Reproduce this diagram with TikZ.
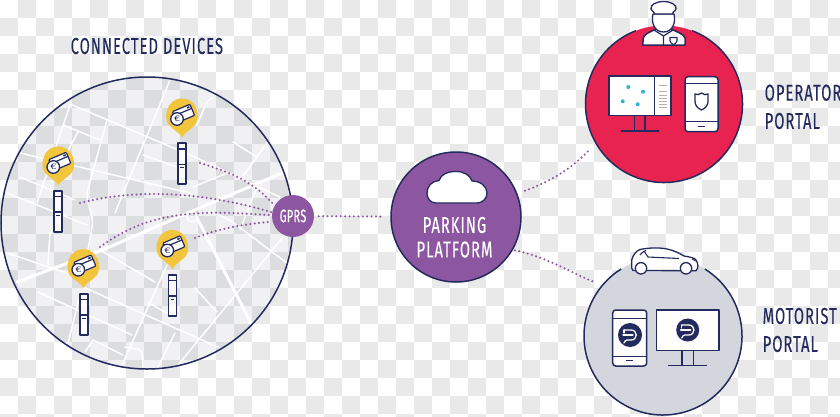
\documentclass[tikz,border=0pt]{standalone}
\usepackage{fontspec}
\newfontfamily\din[FakeStretch=0.64,LetterSpace=4.5,FakeBold=0.2]{Fira Sans}
\newfontfamily\dinsmall[FakeStretch=0.6,LetterSpace=2,FakeBold=0.4]{Fira Sans}
\definecolor{navy}{HTML}{232A5E}
\definecolor{plum}{HTML}{8C57A0}
\definecolor{crimson}{HTML}{E8234F}
\definecolor{sun}{HTML}{F2C53D}
\definecolor{teal}{HTML}{2FB4CC}
\definecolor{silver}{HTML}{D3D6DD}
\definecolor{tile}{HTML}{E9E9E9}
\definecolor{maptint}{HTML}{3A4060}
\tikzset{
  x=1pt,y=-1pt,
  outline/.style={draw=navy,line width=1.5pt,line join=round},
  dotline/.style={draw=plum,line width=2.3pt,line cap=round,dash pattern=on 0pt off 4.4pt},
  street/.style={draw=white,line width=1.5pt,line cap=round},
  avenue/.style={draw=white,line width=3pt,line cap=round},
  hub/.style={circle,inner sep=0pt,line width=1.5pt},
  caption/.style={font=\din\fontsize{23}{25}\selectfont,text=navy,anchor=west,inner sep=0pt},
  whitecap/.style={font=\din\fontsize{23}{25}\selectfont,text=white,inner sep=0pt},
  pics/parkpin/.style={code={
    \fill[sun] (0,22.5) .. controls (-2,17.5) and (-9,15) .. (-13.5,9.5)
      .. controls (-19,2) and (-15,-16.5) .. (0,-16.5)
      .. controls (15,-16.5) and (19,2) .. (13.5,9.5)
      .. controls (9,15) and (2,17.5) .. (0,22.5) -- cycle;
    \begin{scope}[shift={(1.5,-1.5)},rotate=23]
      \draw[outline,fill=white,line width=1.2pt,rounded corners=1pt] (-9.5,-6) rectangle (9.5,6);
      \draw[navy,line width=1.2pt] (-9.5,-1.5) -- (9.5,-1.5);
      \fill[navy] (5.5,-4.6) rectangle (8,-3);
    \end{scope}
    \draw[outline,fill=white,line width=1.3pt] (-5,4) circle[radius=6.3pt];
    \node[inner sep=0pt,text=navy,font=\fontsize{8}{8}\selectfont\bfseries] (euro) at (-5,4) {€};
  }},
  pics/bollard/.style={code={
    \draw[outline,fill=white,fill opacity=.85,line width=1.7pt] (-4.1,0) rectangle (4.1,41);
    \draw[navy,line width=1.4pt] (-4.1,5.7) -- (4.1,5.7) (-4.1,21) -- (4.1,21);
    \draw[navy,line width=1.1pt] (-1.8,24.2) -- (1.8,24.2);
  }},
  pics/brandmark/.style={code={
    \fill[navy] (0,0) circle[radius=#1pt];
    \draw[white,line width=1.3pt,line cap=round,line join=round]
      (-6,-5) -- (1,-5) .. controls (8,-5) and (8,5) .. (1,5) -- (-3,5) .. controls (-5,5) and (-5,7) .. (-6,8);
    \draw[white,line width=1.3pt,line cap=round]
      (-7,0) -- (1,0) .. controls (3,0) and (3,0) .. (3,0);
    \draw[white,line width=1.3pt,line cap=round]
      (-6,-5) -- (-6,-2);
  }},
}
\begin{document}
\begin{tikzpicture}
\useasboundingbox (0,0) rectangle (840,416);

% checker tiling of the backdrop
\begin{scope}
  \clip (0,0) rectangle (840,416);
  \fill[white] (0,0) rectangle (840,416);
  \foreach \i in {0,...,46}{
    \foreach \j in {0,...,23}{
      \pgfmathtruncatemacro\parity{mod(\i+\j,2)}
      \ifnum\parity=1
        \fill[tile] (\i*18,\j*18) rectangle ++(18,18);
      \fi
    }
  }
\end{scope}

% street map disc
\fill[maptint,fill opacity=.07] (147,223) circle[radius=146pt];
\begin{scope}
  \clip (147,223) circle[radius=146pt];
  \draw[street] (70,104) -- (197,158) -- (280,197);
  \draw[street] (170,80) -- (115,213);
  \draw[street] (70,105) -- (37,203);
  \draw[street] (63,125) -- (100,140);
  \draw[street] (107,120) -- (87,193) .. controls (86,205) and (94,212) .. (92,227) -- (88,250);
  \draw[street] (78,132) -- (63,160);
  \draw[street] (20,153) -- (190,193);
  \draw[street] (143,155) -- (177,167);
  \draw[street] (20,177) -- (75,200);
  \draw[street] (7,193) -- (87,225);
  \draw[avenue] (282,173) -- (190,212) -- (100,251) -- (17,282);
  \draw[avenue] (197,218) -- (252,325);
  \draw[street] (192,217) circle[radius=5pt];
  \draw[street] (283,237) -- (178,365);
  \draw[street] (205,213) .. controls (225,212) and (235,225) .. (287,263);
  \draw[street] (100,250) -- (155,282);
  \draw[street] (147,302) -- (167,313);
  \draw[street] (167,265) -- (122,365);
  \draw[street] (38,292) -- (132,335);
  \draw[street] (83,287) -- (220,348);
  \draw[street] (175,333) -- (158,367);
  \draw[street] (195,288) -- (217,312);
  \draw[street] (7,253) -- (67,273);
  \draw[street] (80,295) -- (68,343);
  \draw[street] (85,352) -- (93,340) -- (123,355);
  \draw[street] (125,347) -- (138,349) .. controls (143,350) and (143,358) .. (143,367);
  \draw[street] (50,233) -- (48,265);
  \draw[street] (213,98) .. controls (205,100) and (205,108) .. (197,125);
  \draw[street] (233,142) -- (257,157);
  \draw[street] (267,143) -- (240,180);
  \draw[street] (257,187) -- (240,230);
  \draw[street] (193,187) -- (227,173);
\end{scope}
\node[hub,draw=navy,minimum size=292pt] (map) at (147,223) {};

% parking devices on the map
\pic at (182,115) {parkpin};
\pic at (58.3,163) {parkpin};
\pic at (83.3,265.7) {parkpin};
\pic at (172.3,246.5) {parkpin};
\pic at (181.8,143.3) {bollard};
\pic at (58.2,191) {bollard};
\pic at (83.8,294) {bollard};
\pic at (172.5,275) {bollard};

% hubs
\node[hub,fill=plum,minimum size=42pt] (gprs) at (293,216)
  {\dinsmall\fontsize{18}{18}\selectfont\textcolor{white}{GPRS}};
\node[hub,draw=navy,fill=plum,minimum size=130pt] (platform) at (456,217) {};
\node[whitecap] (parking) at (454.5,225) {PARKING};
\node[whitecap] (ptf) at (454.5,249.5) {PLATFORM};
\draw[outline,fill=white,line width=1.3pt] (436,203)
  .. controls (430,203) and (427,198) .. (427,193)
  .. controls (427,186) and (432,181) .. (439,180.5)
  .. controls (441,174) and (448,171.5) .. (456,171.5)
  .. controls (464,171.5) and (470,175) .. (472,181)
  .. controls (480,181) and (487,186) .. (487,193)
  .. controls (487,199) and (482,203) .. (477,203) -- cycle;

% operator portal
\node[hub,fill=crimson,minimum size=157pt] (operator) at (664,104) {};
\draw[outline] (664,104) ++(69:78.5pt) arc[start angle=69,end angle=-249,radius=78.5pt];
\draw[outline,fill=white] (609,76) rectangle (671,115.7);
\draw[navy,line width=1.3pt] (654.3,76) -- (654.3,115.7);
\foreach \yy in {85,91,95,98,101,104,107}{
  \draw[black!30,line width=.6pt] (659,\yy) -- (667,\yy);
}
\fill[teal] (628.3,87) circle[radius=2pt] (643,91.7) circle[radius=2pt]
  (622.7,101.3) circle[radius=2pt] (637.7,104.3) circle[radius=2pt];
\draw[outline] (634.3,115.7) -- (634.3,131) (645,115.7) -- (645,131);
\draw[outline] (620.7,131) -- (659.3,131);
\draw[outline,fill=white,rounded corners=3pt] (685,76.7) rectangle (718,131.7);
\draw[navy,line width=1.3pt] (685,83.3) -- (718,83.3) (685,121.7) -- (718,121.7);
\draw[navy,line width=1.3pt] (698,126.5) -- (705,126.5);
\draw[outline,line width=1.3pt] (701.5,110)
  .. controls (697,108) and (695,105) .. (695,101) -- (695,94)
  .. controls (697,95) and (699,95) .. (701.5,93)
  .. controls (704,95) and (706,95) .. (708,94) -- (708,101)
  .. controls (708,105) and (706,108) .. (701.5,110) -- cycle;

% duty officer above the disc
\draw[outline,fill=white] (642.7,45) -- (643.3,38) .. controls (644,34) and (650,32) .. (656,29)
  -- (671,29) .. controls (677,32) and (684,34) .. (685,38) -- (685,45) -- cycle;
\draw[navy,line width=1.2pt] (654,30) -- (663.5,36) -- (673,30) (663.5,36) -- (663.5,45);
\draw[outline,line width=1.1pt] (670,37.5) -- (677,37.5) -- (677,41) .. controls (677,43) and (674,44.5) .. (673.5,44.5)
  .. controls (673,44.5) and (670,43) .. (670,41) -- cycle;
\draw[outline,fill=white,line width=1.3pt] (653,14) .. controls (651,22) and (654,32) .. (663.5,32)
  .. controls (673,32) and (676,22) .. (674,14) -- cycle;
\draw[outline,fill=white,line width=1.3pt] (655,14) .. controls (653,11) and (651,10) .. (651,9)
  .. controls (650,5) and (656,1.5) .. (663.5,1.5) .. controls (671,1.5) and (677,5) .. (676,9)
  .. controls (676,10) and (674,11) .. (672,14) -- cycle;

% motorist portal
\node[hub,fill=silver,minimum size=158pt] (motorist) at (663,336) {};
\draw[outline] (663,336) ++(58:79pt) arc[start angle=58,end angle=-238,radius=79pt];
\draw[outline,fill=white,rounded corners=3pt] (612.7,310) rectangle (646.7,366);
\draw[navy,line width=1.3pt] (612.7,318.3) -- (646.7,318.3) (612.7,356.7) -- (646.7,356.7);
\draw[navy,line width=1.3pt] (626,360.8) -- (633.3,360.8);
\pic at (630,335) {brandmark=12};
\draw[outline,fill=white] (656.7,310) rectangle (719,350.7);
\pic at (687.7,330) {brandmark=11.5};
\draw[outline] (682,350.7) -- (682,365.7) (693.3,350.7) -- (693.3,365.7);
\draw[outline] (668.3,365.7) -- (707.3,365.7);

% car above the disc
\draw[outline,fill=white,line width=1.3pt] (633,270.5) -- (631.7,268) -- (631.7,260)
  .. controls (633,255) and (636,251) .. (640,249.5)
  .. controls (650,247.5) and (660,247.5) .. (667,249)
  .. controls (674,250.5) and (679,253) .. (684,256)
  .. controls (690,257) and (695,258) .. (696,260)
  .. controls (698,263) and (699,268) .. (696,270.7) -- cycle;
\draw[navy,line width=1.1pt] (640,255) .. controls (642,252) and (645,251) .. (646,250.5);
\draw[navy,line width=1.1pt] (644,251) -- (648,257) -- (679,258.5);
\draw[navy,line width=1.1pt] (692,259) -- (696,261);
\draw[outline,fill=white,line width=1.3pt] (641,268.3) circle[radius=5.7pt];
\draw[outline,fill=white,line width=1.3pt] (686,268.3) circle[radius=5.7pt];

% connectors
\coordinate (tapA) at (200,163);
\coordinate (tapB) at (80,203);
\coordinate (tapC) at (100,247);
\coordinate (tapD) at (195,238);
\path[dotline] (tapA) .. controls (225,171) and (250,178) .. (gprs.150);
\path[dotline] (tapB) .. controls (150,185) and (220,197) .. (gprs.170);
\path[dotline] (tapC) .. controls (150,210) and (200,210) .. (gprs.178);
\path[dotline] (tapD) .. controls (220,228) and (245,224) .. (gprs.195);
\path[dotline,shorten <=4pt,shorten >=9pt] (gprs) -- (platform);
\path[dotline,shorten <=8pt,shorten >=9pt] (platform.21) .. controls (555,180) and (575,165) .. (operator.210);
\path[dotline,shorten <=2pt,shorten >=8pt] (platform.-30) .. controls (550,258) and (575,275) .. (motorist.140);

% captions
\node[caption] (devices) at (70.5,46) {CONNECTED DEVICES};
\node[caption] (op1) at (764.5,92.7) {OPERATOR};
\node[caption] (op2) at (764.5,121) {PORTAL};
\node[caption] (mo1) at (762.5,316) {MOTORIST};
\node[caption] (mo2) at (762.5,344) {PORTAL};
\end{tikzpicture}
\end{document}
